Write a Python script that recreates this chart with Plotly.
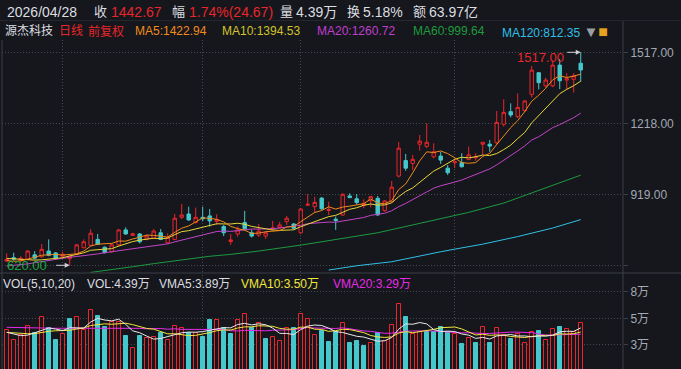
import plotly.graph_objects as go
import pandas as pd

# ---------------- data ----------------
opens = [638, 652, 640, 646, 664, 656, 680, 672, 658, 648,
         666, 694, 704, 729, 696, 677, 706, 769, 746, 752,
         730, 733, 757, 715, 729, 822, 836, 800, 822, 828,
         805, 783, 720, 752, 800, 757, 747, 743, 774, 778,
         804, 794, 757, 873, 867, 903, 851, 814, 832, 912,
         900, 872, 892, 902, 850, 888, 996, 1061, 1049, 1130,
         1121, 1077, 1080, 1029, 1052, 1052, 1066, 1073, 1130, 1130,
         1136, 1214, 1267, 1246, 1271, 1340, 1431, 1376, 1376, 1463,
         1400, 1403, 1471]
highs = [670, 673, 660, 684, 680, 710, 729, 676, 677, 662,
         710, 729, 772, 752, 700, 710, 773, 780, 757, 756,
         750, 772, 773, 755, 836, 878, 867, 863, 867, 857,
         835, 790, 752, 783, 849, 770, 794, 762, 807, 803,
         828, 798, 860, 920, 909, 907, 888, 825, 924, 923,
         920, 898, 912, 912, 895, 975, 1139, 1089, 1085, 1169,
         1218, 1134, 1098, 1042, 1070, 1092, 1120, 1092, 1140, 1148,
         1270, 1319, 1302, 1344, 1316, 1459, 1433, 1410, 1484, 1488,
         1429, 1429, 1517]
lows = [634, 640, 636, 642, 645, 652, 658, 643, 652, 620,
        662, 690, 700, 705, 670, 673, 702, 748, 744, 712,
        725, 730, 726, 712, 726, 815, 808, 796, 805, 783,
        790, 743, 706, 741, 770, 737, 740, 731, 769, 773,
        790, 772, 752, 870, 842, 853, 832, 769, 828, 903,
        876, 860, 864, 828, 846, 884, 990, 1018, 1021, 1103,
        1113, 1070, 1047, 1000, 1029, 1032, 1062, 1060, 1085, 1098,
        1126, 1204, 1243, 1240, 1266, 1327, 1361, 1368, 1370, 1362,
        1361, 1347, 1393]
closes = [645, 646, 649, 680, 650, 687, 662, 650, 666, 658,
          706, 719, 755, 708, 673, 706, 769, 752, 753, 719,
          743, 764, 729, 738, 818, 832, 811, 822, 816, 807,
          812, 757, 727, 769, 774, 743, 764, 757, 777, 790,
          818, 776, 857, 877, 885, 858, 855, 809, 919, 905,
          884, 880, 909, 832, 891, 949, 1113, 1029, 1066, 1143,
          1138, 1098, 1063, 1010, 1056, 1035, 1085, 1077, 1138, 1122,
          1222, 1264, 1253, 1285, 1312, 1442, 1389, 1400, 1463, 1397,
          1405, 1418, 1442.67]
volumes = [3.72, 2.79, 3.25, 4.09, 3.41, 4.89, 3.88, 2.79, 3.35, 4.76,
           4.89, 3.72, 5.57, 5.01, 4.03, 4.49, 4.49, 3.17, 2.03, 3.17,
           2.95, 3.07, 3.48, 2.79, 4.09, 3.88, 3.41, 3.41, 3.10, 4.65,
           4.65, 3.88, 3.32, 4.65, 5.16, 3.94, 4.40, 2.89, 3.10, 2.74,
           3.88, 3.88, 5.16, 4.73, 3.25, 3.66, 2.64, 3.56, 4.34, 2.49,
           2.68, 2.28, 2.49, 3.48, 2.71, 4.19, 6.12, 4.92, 3.32, 3.50,
           3.56, 3.50, 4.03, 3.50, 3.32, 2.43, 2.95, 2.52, 3.99, 2.52,
           3.88, 3.25, 2.89, 3.32, 2.52, 3.50, 3.63, 2.79, 3.81, 3.99,
           3.81, 3.56, 4.39]

# moving-average values visible before enough bars exist
ma5_lead = [640, 637, 638, 645]
ma10_lead = [649, 647, 644, 642, 642, 643, 645, 648, 652]
ma20_lead = [617, 619, 622, 626, 631, 636, 641, 646, 651, 654,
             657, 660, 664, 668, 673, 677, 681, 685, 689]
vma5_lead = [3.51, 3.35, 3.20, 3.25]
vma10_lead = [3.50, 3.45, 3.40, 3.38, 3.38, 3.50, 3.60, 3.65, 3.68]
vma20_lead = [3.97, 3.95, 3.93, 3.92, 3.90, 3.90, 3.90, 3.88, 3.88, 3.88,
              3.90, 3.90, 3.92, 3.92, 3.90, 3.90, 3.90, 3.88, 3.88]

# long averages (history lies outside the window)
ma60_idx = [12, 15, 18, 21, 25, 29, 32, 36, 42, 47, 53, 58, 62, 66, 71, 75, 79, 82]
ma60_val = [590, 601, 614, 627, 644, 658, 666, 680, 705, 730, 757, 790, 815, 843,
            882, 925, 968, 999.64]
ma120_idx = [46, 50, 55, 59, 62, 64, 68, 73, 78, 82]
ma120_val = [600, 618, 635, 660, 677, 688, 709, 741, 777, 812.35]

month_start_idx = [8, 28, 42, 64]
price_ticks = [1517, 1218, 919, 620]
price_tick_text = ["1517.00", "1218.00", "919.00", ""]
vol_ticks = [7.26, 4.80, 2.40]
vol_tick_text = ["8万", "5万", "3万"]

stock_name = "源杰科技"
date_str = "2026/04/28"
last_close = "1442.67"
change_str = "1.74%(24.67)"
vol_str = "4.39万"
turnover = "5.18%"
amount = "63.97亿"
ma_labels = {"MA5": "1422.94", "MA10": "1394.53", "MA20": "1260.72",
             "MA60": "999.64", "MA120": "812.35"}
vol_labels = {"VOL": "4.39万", "VMA5": "3.89万", "VMA10": "3.50万", "VMA20": "3.29万"}

# ---------------- styling ----------------
W, H = 681, 369
BG = "#15171c"
GRID = "#454954"
AXIS = "#3a3e47"
RED = "#e8262b"
TEAL = "#45c8cc"
C_MA5 = "#f08a1c"
C_MA10 = "#e8d63a"
C_MA20 = "#c444c8"
C_MA60 = "#1d9a40"
C_MA120 = "#30bfe6"
C_VMA5 = "#e8e8e8"
C_VMA10 = "#f0e63c"
C_VMA20 = "#e52ae8"
TXT = "#dcdde0"
TICK = "#a3a8b3"
FONT = "Liberation Sans, Arial, Noto Sans CJK SC, sans-serif"


def px(v):
    return v / W


def py(v):
    return 1 - v / H


def with_lead(values, lead, window):
    s = pd.Series(values).rolling(window).mean().tolist()
    for k, v in enumerate(lead):
        s[k] = v
    return s


n = len(closes)
x = list(range(n))
ma5 = with_lead(closes, ma5_lead, 5)
ma10 = with_lead(closes, ma10_lead, 10)
ma20 = with_lead(closes, ma20_lead, 20)
vma5 = with_lead(volumes, vma5_lead, 5)
vma10 = with_lead(volumes, vma10_lead, 10)
vma20 = with_lead(volumes, vma20_lead, 20)

up_vol = [True if i == 0 else closes[i] >= closes[i - 1] for i in range(n)]
up_vol[0] = closes[0] >= opens[0]
vol_fill = [BG if u else TEAL for u in up_vol]
vol_line = [RED if u else TEAL for u in up_vol]

fig = go.Figure()
fig.add_trace(go.Candlestick(
    x=x, open=opens, high=highs, low=lows, close=closes,
    increasing=dict(line=dict(color=RED, width=1), fillcolor=BG),
    decreasing=dict(line=dict(color=TEAL, width=1), fillcolor=TEAL),
    whiskerwidth=0, showlegend=False, hoverinfo="skip",
    xaxis="x", yaxis="y"))

for xs, ys, c in [(ma120_idx, ma120_val, C_MA120), (ma60_idx, ma60_val, C_MA60),
                  (x, ma20, C_MA20), (x, ma10, C_MA10), (x, ma5, C_MA5)]:
    fig.add_trace(go.Scatter(x=xs, y=ys, mode="lines", line=dict(color=c, width=1),
                             showlegend=False, hoverinfo="skip", xaxis="x", yaxis="y"))

fig.add_trace(go.Bar(x=x, y=volumes, width=0.6,
                     marker=dict(color=vol_fill, line=dict(color=vol_line, width=1)),
                     showlegend=False, hoverinfo="skip", xaxis="x2", yaxis="y2"))
for ys, c in [(vma20, C_VMA20), (vma10, C_VMA10), (vma5, C_VMA5)]:
    fig.add_trace(go.Scatter(x=x, y=ys, mode="lines", line=dict(color=c, width=1),
                             showlegend=False, hoverinfo="skip", xaxis="x2", yaxis="y2"))

# axis geometry (pixel layout)
x_left, x_right = 2, 623
main_top, main_bot = 40, 273
vol_top = 275
xr = [-0.67, 88.04]
p_per_px = (price_ticks[0] - price_ticks[1]) / 71.0
p_top = price_ticks[0] + (52.3 - main_top) * p_per_px
p_bot = price_ticks[0] - (main_bot - 52.3) * p_per_px
v_per_px = 1 / 10.83
v_top = (370.3 - vol_top) * v_per_px
v_bot = (370.3 - H) * v_per_px

xa = dict(domain=[px(x_left), px(x_right)], range=xr, tickvals=month_start_idx,
          showticklabels=False, showgrid=True, gridcolor=GRID, griddash="1px,2px",
          gridwidth=1, zeroline=False, showline=False, ticks="", fixedrange=True)
fig.update_layout(
    width=W, height=H, paper_bgcolor=BG, plot_bgcolor=BG,
    margin=dict(l=0, r=0, t=0, b=0), bargap=0,
    font=dict(family=FONT, color=TXT, size=12),
    xaxis=dict(**xa, anchor="y", rangeslider=dict(visible=False)),
    xaxis2=dict(**xa, anchor="y2", matches="x"),
    yaxis=dict(domain=[py(main_bot), py(main_top)], range=[p_bot, p_top], side="right",
               anchor="x", tickvals=price_ticks, ticktext=price_tick_text,
               ticks="outside", ticklen=4, tickcolor=AXIS, showgrid=True, gridcolor=GRID,
               griddash="1px,2px", zeroline=False, showline=False, automargin=False,
               tickfont=dict(size=12, color=TICK)),
    yaxis2=dict(domain=[0, py(vol_top)], range=[v_bot, v_top], side="right",
                anchor="x2", tickvals=vol_ticks, ticktext=vol_tick_text,
                ticks="outside", ticklen=4, tickcolor=AXIS, showgrid=True, gridcolor=GRID,
                griddash="1px,2px", zeroline=False, showline=False, automargin=False,
                tickfont=dict(size=12, color=TICK)),
)

shapes = [
    dict(type="line", xref="paper", yref="paper", x0=0, x1=1, y0=py(main_bot), y1=py(main_bot),
         line=dict(color=AXIS, width=1)),
    dict(type="line", xref="paper", yref="paper", x0=px(x_right), x1=px(x_right), y0=0, y1=py(21),
         line=dict(color=AXIS, width=1)),
    dict(type="line", xref="paper", yref="paper", x0=px(x_left), x1=px(x_left), y0=0, y1=py(main_top),
         line=dict(color=AXIS, width=1)),
    dict(type="line", xref="paper", yref="paper", x0=0, x1=1, y0=py(20.5), y1=py(20.5),
         line=dict(color="#24272e", width=1)),
]
fig.update_layout(shapes=shapes)

ann = []


def txt(xp, yp, s, color, size=12, anchor="left"):
    ann.append(dict(x=px(xp), y=py(yp), xref="paper", yref="paper", text=s, showarrow=False,
                    xanchor=anchor, yanchor="middle", font=dict(size=size, color=color, family=FONT)))


# header row
y1 = 11.5
txt(5, y1, date_str, TXT, 14)
txt(92, y1, "收", TXT, 13)
txt(109, y1, last_close, RED, 14)
txt(170, y1, "幅", TXT, 13)
txt(187, y1, change_str, RED, 14)
txt(278, y1, "量", TXT, 13)
txt(294, y1, vol_str, TXT, 14)
txt(345, y1, "换", TXT, 13)
txt(361, y1, turnover, TXT, 14)
txt(411, y1, "额", TXT, 13)
txt(427, y1, amount, TXT, 14)

# legend row (dropdown triangle and lock glyph appended as text)
y2 = 31.5
txt(3, y2, stock_name, TXT, 12)
txt(57, y2, "日线", RED, 12)
txt(86, y2, "前复权", RED, 12)
txt(133, y2, "MA5:" + ma_labels["MA5"], C_MA5, 12)
txt(220, y2, "MA10:" + ma_labels["MA10"], "#d2c428", 12)
txt(315, y2, "MA20:" + ma_labels["MA20"], "#c03ed0", 12)
txt(411, y2, "MA60:" + ma_labels["MA60"], "#1f9a3e", 12)
txt(500, y2,
    "MA120:" + ma_labels["MA120"]
    + " <span style='color:#9a9da4;font-size:15px'>▼</span>"
    + "<span style='color:#e8a21e;font-size:16px'>■</span>",
    C_MA120, 12)

# volume legend
y3 = 283.5
txt(1, y3, "VOL(5,10,20)", TXT, 12)
txt(85, y3, "VOL:" + vol_labels["VOL"], TXT, 12)
txt(157, y3, "VMA5:" + vol_labels["VMA5"], TXT, 12)
txt(239, y3, "VMA10:" + vol_labels["VMA10"], C_VMA10, 12)
txt(331, y3, "VMA20:" + vol_labels["VMA20"], C_VMA20, 12)

# high / low markers
lo_i = lows.index(min(lows))
hi_i = highs.index(max(highs))
for i, val, col, ysh in [(lo_i, lows[lo_i], "#22a544", 0), (hi_i, highs[hi_i], RED, -5)]:
    ann.append(dict(x=i, y=val, xref="x", yref="y", text="", showarrow=True, ax=-15, ay=0,
                    arrowhead=2, arrowsize=1, arrowwidth=1, arrowcolor="#cfd0d4", standoff=0))
    ann.append(dict(x=i, y=val, xref="x", yref="y", text=f"{val:.2f}", showarrow=False,
                    xanchor="right", yanchor="middle", xshift=-15 if i == hi_i else -21,
                    yshift=ysh, font=dict(size=13, color=col, family=FONT)))

fig.update_layout(annotations=ann)
fig.write_html(
    "out.html",
    config={"displayModeBar": False},
    post_script="document.body.style.margin='0';",
)
